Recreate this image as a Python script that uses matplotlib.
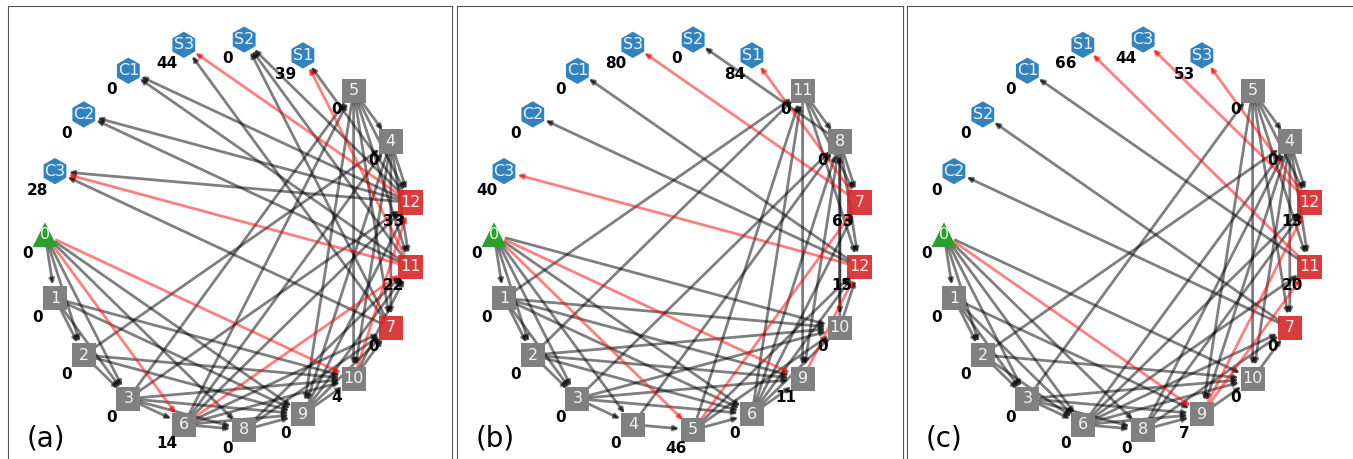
import matplotlib
matplotlib.use('Agg')
import matplotlib.pyplot as plt
import numpy as np

# node order around the circle (starting at the left, going clockwise)
order_a = ['0', 'C3', 'C2', 'C1', 'S3', 'S2', 'S1', '5', '4', '12', '11', '7', '10', '9', '8', '6', '3', '2', '1']
order_b = ['0', 'C3', 'C2', 'C1', 'S3', 'S2', 'S1', '11', '8', '7', '12', '10', '9', '6', '5', '4', '3', '2', '1']
order_c = ['0', 'C2', 'S2', 'C1', 'S1', 'C3', 'S3', '5', '4', '12', '11', '7', '10', '9', '8', '6', '3', '2', '1']

# value shown next to each node
values_a = {'0': 0, 'C3': 28, 'C2': 0, 'C1': 0, 'S3': 44, 'S2': 0, 'S1': 39, '5': 0, '4': 0, '12': 33,
            '11': 22, '7': 0, '10': 4, '9': 0, '8': 0, '6': 14, '3': 0, '2': 0, '1': 0}
values_b = {'0': 0, 'C3': 40, 'C2': 0, 'C1': 0, 'S3': 80, 'S2': 0, 'S1': 84, '11': 0, '8': 0, '7': 63,
            '12': 15, '10': 0, '9': 11, '6': 0, '5': 46, '4': 0, '3': 0, '2': 0, '1': 0}
values_c = {'0': 0, 'C2': 0, 'S2': 0, 'C1': 0, 'S1': 66, 'C3': 44, 'S3': 53, '5': 0, '4': 0, '12': 13,
            '11': 20, '7': 0, '10': 0, '9': 7, '8': 0, '6': 0, '3': 0, '2': 0, '1': 0}

# critical nodes (red squares)
crit_a = ['12', '11', '7']
crit_b = ['7', '12']
crit_c = ['12', '11', '7']

# edges
edges_a = [('0', '1'), ('0', '2'), ('0', '3'), ('0', '8'), ('0', '9'),
           ('1', '2'), ('1', '3'), ('1', '9'), ('1', '10'),
           ('2', '3'), ('2', '4'), ('2', '9'), ('2', '10'),
           ('3', '5'), ('3', '6'), ('3', '8'), ('3', '9'), ('3', '10'), ('3', '12'),
           ('6', '8'), ('6', '9'), ('6', '10'), ('6', '4'), ('6', '7'), ('6', '12'), ('6', '5'),
           ('8', '9'), ('8', '11'), ('8', '7'),
           ('9', '10'), ('9', '7'), ('9', '11'), ('9', '12'),
           ('10', '7'), ('10', '11'),
           ('5', '12'), ('5', '11'), ('5', '7'), ('5', '10'), ('5', '9'), ('5', '4'),
           ('4', '12'), ('4', '11'), ('4', '7'), ('4', '10'), ('4', '9'),
           ('12', 'S2'), ('12', 'S1'), ('12', 'C1'), ('12', 'C2'), ('12', 'C3'),
           ('11', 'S2'), ('11', 'C1'), ('11', 'C2'),
           ('7', 'S3'), ('7', 'S2'), ('7', 'C3')]
red_a = [('0', '6'), ('0', '10'), ('6', '11'), ('10', '12'), ('12', 'S3'), ('11', 'S1'), ('11', 'C3')]

edges_b = [('0', '1'), ('0', '2'), ('0', '3'), ('0', '4'), ('0', '6'), ('0', '10'),
           ('1', '2'), ('1', '3'), ('1', '6'), ('1', '9'), ('1', '10'), ('1', '11'),
           ('2', '3'), ('2', '6'), ('2', '9'), ('2', '10'), ('2', '11'),
           ('3', '4'), ('3', '6'), ('3', '9'), ('3', '10'), ('3', '8'),
           ('4', '5'), ('4', '8'),
           ('5', '6'), ('5', '10'), ('5', '11'), ('5', '12'),
           ('6', '9'), ('6', '10'), ('6', '12'), ('6', '11'), ('6', '8'), ('6', '7'),
           ('10', '12'), ('10', '8'),
           ('11', '8'), ('11', '7'), ('11', '12'), ('11', '9'),
           ('8', '7'), ('8', '12'), ('8', '10'), ('8', '9'), ('8', 'S2'),
           ('12', 'C1'), ('12', 'C2')]
red_b = [('0', '5'), ('0', '9'), ('5', '7'), ('9', '12'), ('7', 'S3'), ('7', 'S1'), ('12', 'C3')]

edges_c = [('0', '1'), ('0', '2'), ('0', '3'), ('0', '6'), ('0', '8'), ('0', '10'),
           ('1', '2'), ('1', '3'), ('1', '6'), ('1', '9'),
           ('2', '3'), ('2', '10'), ('2', '4'), ('2', '6'),
           ('3', '6'), ('3', '8'), ('3', '9'), ('3', '10'), ('3', '5'),
           ('6', '8'), ('6', '9'), ('6', '10'), ('6', '4'), ('6', '12'), ('6', '7'), ('6', '11'),
           ('8', '9'), ('8', '4'), ('8', '7'), ('8', '12'),
           ('9', '10'), ('10', '7'),
           ('5', '12'), ('5', '11'), ('5', '7'), ('5', '10'), ('5', '9'), ('5', '4'),
           ('4', '12'), ('4', '11'), ('4', '7'), ('4', '10'), ('4', '9'),
           ('11', 'C1'), ('7', 'S2'), ('7', 'C2')]
red_c = [('0', '9'), ('9', '11'), ('9', '12'), ('12', 'C3'), ('12', 'S3'), ('11', 'S1')]

panels = [('(a)', order_a, values_a, crit_a, edges_a, red_a),
          ('(b)', order_b, values_b, crit_b, edges_b, red_b),
          ('(c)', order_c, values_c, crit_c, edges_c, red_c)]

W, H = 1353, 459
fig = plt.figure(figsize=(W / 100, H / 100), dpi=100)
lefts = [8, 457, 907]
widths = [444, 446, 448]

for (tag, order, values, crit, edges, red), left, width in zip(panels, lefts, widths):
    ax = fig.add_axes([left / W, -2 / H, width / W, (H - 4) / H])
    n = len(order)
    ang = np.deg2rad(180 - np.arange(n) * 360 / n)
    pos = {name: (np.cos(a), 1.03 * np.sin(a)) for name, a in zip(order, ang)}

    for (u, v), col in [(e, 'black') for e in edges] + [(e, 'red') for e in red]:
        ax.annotate('', xy=pos[v], xytext=pos[u],
                    arrowprops=dict(arrowstyle='-|>', color=col, alpha=0.5, lw=2,
                                    shrinkA=9, shrinkB=10, mutation_scale=7),
                    zorder=1)

    for name in order:
        x, y = pos[name]
        if name == '0':
            ax.scatter(x, y, s=320, marker='^', color='#2ca02c', zorder=3, edgecolors='none')
        elif name[0] in 'SC':
            ax.scatter(x, y, s=360, marker='h', color='#3182bd', zorder=3, edgecolors='none')
        elif name in crit:
            ax.scatter(x, y, s=300, marker='s', color='#d62728', alpha=0.9, zorder=3, edgecolors='none')
        else:
            ax.scatter(x, y, s=300, marker='s', color='#808080', zorder=3, edgecolors='none')
        ax.text(x, y, name, color='white', ha='center', va='center', fontsize=11.5, alpha=0.9, zorder=4)
        ax.text(x - 0.093, y - 0.1, str(values[name]), ha='center', va='center',
                fontsize=11, fontweight='bold', zorder=5)

    ax.text(-1.1, -1.07, tag, fontsize=20, ha='left', va='center')
    ax.set_xlim(-1.201, -1.201 + width / 184)
    ax.set_ylim(-1.19, 1.203)
    ax.set_xticks([])
    ax.set_yticks([])
    for s in ax.spines.values():
        s.set_color('#555555')

fig.savefig('out.png', dpi=100)
